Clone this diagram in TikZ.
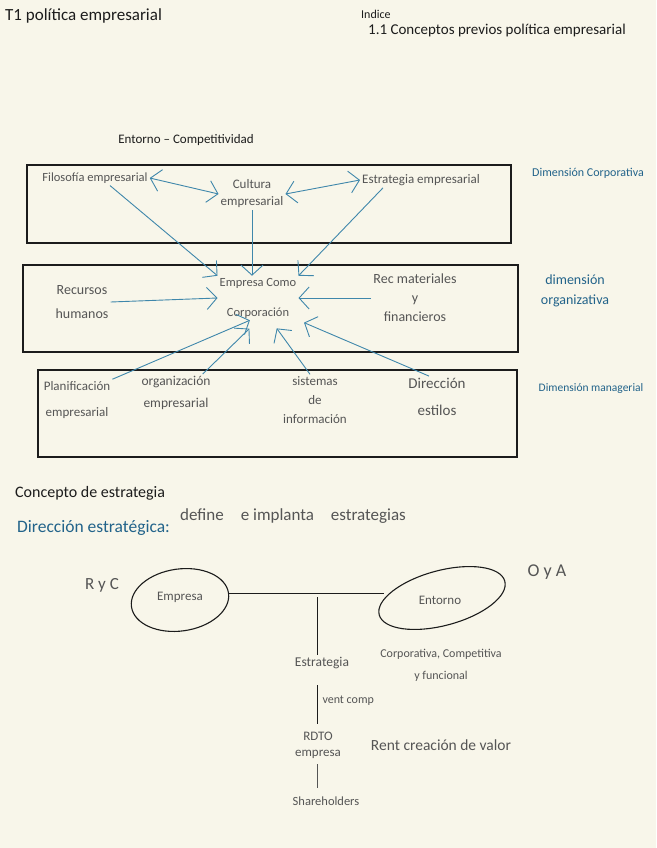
\documentclass[tikz,border=0pt]{standalone}
\usepackage{fontspec}
\setmainfont{Carlito}
\usetikzlibrary{
  arrows.meta,
  calc,
  positioning,
  shapes.geometric
}
\definecolor{paper}{HTML}{F8F6EA}
\definecolor{ink}{HTML}{1C1C1C}
\definecolor{pencil}{HTML}{555555}
\definecolor{inkblue}{HTML}{22638A}
\definecolor{arrowblue}{HTML}{3F87AB}

\begin{document}
\begin{tikzpicture}[
  x=1pt, y=-1pt,
  lbl/.style={text=pencil, align=center, inner sep=2pt, font=\fontsize{12}{17}\selectfont},
  dimlbl/.style={text=inkblue, align=center, inner sep=1pt, font=\fontsize{12}{16}\selectfont},
  heading/.style={text=ink, inner sep=1pt, font=\fontsize{14}{16}\selectfont},
  frame/.style={draw=ink, line width=1.2pt, inner sep=0pt, outer sep=0pt},
  bubble/.style={draw=ink, ellipse, line width=1.1pt, inner sep=0pt},
  arrow/.style={-{Straight Barb[length=10pt,width=22pt]}, draw=arrowblue, line width=0.9pt},
  twoway/.style={{Straight Barb[length=10pt,width=22pt]}-{Straight Barb[length=10pt,width=22pt]}, draw=arrowblue, line width=0.9pt},
  stem/.style={draw=ink, line width=1pt}
]
\fill[paper] (0,0) rectangle (656,848);
\useasboundingbox (0,0) rectangle (656,848);

% header
\node[heading, anchor=west, font=\fontsize{17}{19}\selectfont] (titulo) at (4,16) {T1 política empresarial};
\node[heading, anchor=west, font=\fontsize{12}{14}\selectfont] (indice) at (360,14) {Indice};
\node[heading, anchor=west, font=\fontsize{15}{17}\selectfont] (apartado) at (367,31) {1.1 Conceptos previos política empresarial};

% three dimensions
\node[heading, font=\fontsize{13}{15}\selectfont] (entorno) at (186,140) {Entorno -- Competitividad};
\node[frame, minimum width=484, minimum height=78] (corpbox) at (269,204) {};
\node[frame, minimum width=495, minimum height=87] (orgbox) at (270.5,308.5) {};
\node[frame, minimum width=479, minimum height=87] (mgmtbox) at (277.5,413.5) {};

\node[lbl, font=\fontsize{12.5}{15}\selectfont] (filo) at (95,178) {Filosofía empresarial};
\node[lbl, font=\fontsize{13}{17}\selectfont] (cult) at (252,194) {Cultura\\empresarial};
\node[lbl, font=\fontsize{13}{15}\selectfont] (estr) at (421,180) {Estrategia empresarial};

\node[lbl, font=\fontsize{14}{24}\selectfont] (rech) at (82,302) {Recursos\\humanos};
\node[lbl, font=\fontsize{12.5}{30}\selectfont] (corp) at (258,298) {Empresa Como\\Corporación};
\node[lbl, font=\fontsize{14}{19}\selectfont] (recm) at (415,298) {Rec materiales\\y\\financieros};

\node[lbl, font=\fontsize{13}{26}\selectfont] (plan) at (77,400) {Planificación\\empresarial};
\node[lbl, font=\fontsize{13.5}{22}\selectfont] (orga) at (176,393) {organización\\empresarial};
\node[lbl, font=\fontsize{13}{19}\selectfont] (sist) at (315,400) {sistemas\\de\\información};
\node[lbl, font=\fontsize{15}{27}\selectfont] (dire) at (437,397) {Dirección\\estilos};

\node[dimlbl] (dimcorp) at (588,173) {Dimensión Corporativa};
\node[dimlbl, font=\fontsize{14}{20}\selectfont] (dimorg) at (575,291) {dimensión\\organizativa};
\node[dimlbl, font=\fontsize{11.5}{14}\selectfont] (dimmgmt) at (591,388) {Dimensión managerial};

\draw[twoway] (filo.east) -- (cult.west);
\draw[twoway] (cult.east) -- (estr.west);
\draw[arrow] ([xshift=15pt]filo.south) -- (corp.north west);
\draw[arrow] (cult.south) -- (cult.south |- corp.north);
\draw[arrow] ([xshift=-38pt]estr.south) -- (corp.north east);
\draw[arrow] (rech.east) -- (corp.west);
\draw[arrow] (recm.west) -- (corp.east);
\draw[arrow] (plan.north east) -- (corp.250);
\draw[arrow, shorten >=12pt] ([xshift=-10pt]orga.north east) -- (corp.south);
\draw[arrow, shorten >=10pt] ([xshift=-5pt]sist.north) -- (corp.-60);
\draw[arrow, shorten >=6pt] ([xshift=-8pt]dire.north) -- (corp.south east);

% concepto de estrategia
\node[heading, anchor=west, font=\fontsize{16}{18}\selectfont] (concepto) at (14,493) {Concepto de estrategia};
\node[dimlbl, anchor=west, font=\fontsize{17.5}{19}\selectfont] (direst) at (16,528) {Dirección estratégica:};
\node[lbl, anchor=west, font=\fontsize{17}{19}\selectfont] (define) at (178,516) {define\quad e implanta\quad estrategias};

\node[bubble, minimum width=98, minimum height=62, rotate=8] (empresa) at (180,600) {};
\node[lbl, font=\fontsize{13}{15}\selectfont] (empresatxt) at (180,597) {Empresa};
\node[bubble, minimum width=130, minimum height=55, rotate=15] (entornoel) at (442,598) {};
\node[lbl, font=\fontsize{13}{15}\selectfont] (entornotxt) at (440,600) {Entorno};
\node[lbl, font=\fontsize{17}{19}\selectfont] (ryc) at (102,585) {R y C};
\node[lbl, font=\fontsize{18}{20}\selectfont] (oya) at (547,572) {O y A};

\draw[stem, shorten >=-5pt] (empresa.east) -- (empresa.east -| entornoel.west);
\coordinate (fork) at (317,597);

\node[lbl, font=\fontsize{13.5}{15}\selectfont] (estrat) at (322,663) {Estrategia};
\node[lbl, font=\fontsize{12}{22}\selectfont] (alcance) at (441,665) {Corporativa, Competitiva\\y funcional};
\node[lbl, font=\fontsize{13}{16}\selectfont] (rdto) at (318,745) {RDTO\\empresa};
\node[lbl, font=\fontsize{15.5}{17}\selectfont] (rent) at (441,745) {Rent creación de valor};
\node[lbl, font=\fontsize{12.5}{14}\selectfont] (share) at (326,801) {Shareholders};

\draw[stem] (fork) -- (fork |- estrat.north);
\draw[stem, shorten <=14pt, shorten >=6pt] (estrat.south -| fork) -- node[lbl, right=3pt, font=\fontsize{12}{13}\selectfont] {vent comp} (rdto.north -| fork);
\draw[draw=pencil, line width=0.8pt, shorten <=4pt, shorten >=6pt] (rdto.south -| fork) -- (share.north -| fork);
\end{tikzpicture}
\end{document}
